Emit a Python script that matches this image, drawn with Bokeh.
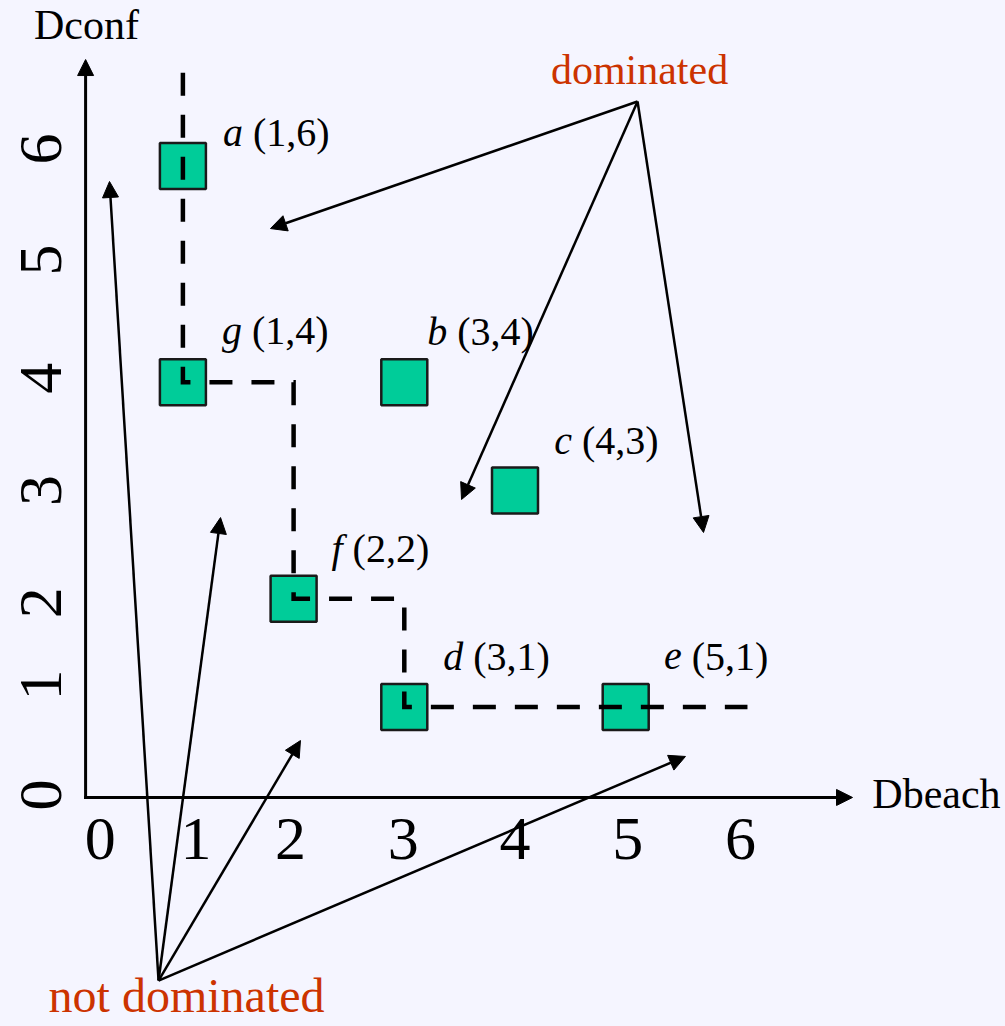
from bokeh.plotting import figure
from bokeh.models import ColumnDataSource, Range1d, Arrow, NormalHead
from bokeh.core.properties import value
from bokeh.embed import file_html
from bokeh.resources import INLINE
import math

# ---------------- data ----------------
names = ["a", "b", "c", "d", "e", "f", "g"]
dbeach = [1, 3, 4, 3, 5, 2, 1]
dconf = [6, 4, 3, 1, 1, 2, 4]
coord_labels = ["(1,6)", "(3,4)", "(4,3)", "(3,1)", "(5,1)", "(2,2)", "(1,4)"]

# Pareto frontier staircase (dashed)
frontier_x = [1, 1, 2, 2, 3, 3, 6.1]
frontier_y = [6.86, 4, 4, 2, 2, 1, 1]

x_ticks = [0, 1, 2, 3, 4, 5, 6]
x_tick_labels = ["0", "1", "2", "3", "4", "5", "6"]
y_ticks = [0, 1, 2, 3, 4, 5, 6]
y_tick_labels = ["0", "1", "2", "3", "4", "5", "6"]

# annotation arrows (data coordinates)
dominated_from = (5.107, 6.595)
dominated_to_x = [1.791, 3.517, 5.703]
dominated_to_y = [5.421, 2.917, 2.612]
notdom_from = (0.780, -1.529)
notdom_to_x = [0.337, 1.340, 2.062, 5.540]
notdom_to_y = [5.856, 2.750, 0.689, 0.542]

# ---------------- layout / style ----------------
BG = "#F5F5FF"
SQ = "#00CC99"
RED = "#CC3300"
SERIF = value("Liberation Serif")
FIX = 0.34  # em; compensates the baseline placement of the svg text

def shift(fs):
    return -FIX * fs

label_dx = [70, 53, 67, 69, 66, 59, 69]        # px, start of "(x,y)" from square centre
label_dy = [-20, -37, -36, -37, -37, -37, -38]  # px, baseline from square centre
x_tick_dx = [28, 13, -3, -1, 0, 2, 4]
y_tick_dy = [-20, -22, 4, 0, -4, -14, -17]

axis_origin = (0.121, 0.163)
y_axis_top = 6.983
x_axis_right = 7.049

p = figure(width=1005, height=1026, output_backend="svg", toolbar_location=None,
           x_range=Range1d(-0.6477, 8.4309), y_range=Range1d(-1.9538, 7.5287),
           min_border=0)
p.axis.visible = False
p.grid.visible = False
p.outline_line_color = None
p.background_fill_color = BG
p.border_fill_color = BG

# squares
pts = ColumnDataSource(dict(
    x=dbeach, y=dconf, name=names, coord=coord_labels,
    ldx=[d - 10 for d in label_dx], cdx=label_dx, dy=[d + shift(40) for d in label_dy]))
p.scatter("x", "y", source=pts, marker="square", size=46,
          fill_color=SQ, line_color="#1A1A1A", line_width=2.5)

# dashed frontier on top of squares
p.line(frontier_x, frontier_y, line_color="black", line_width=4.5,
       line_dash="23 19", line_cap="butt", line_join="miter")

# axes
ox, oy = axis_origin
p.add_layout(Arrow(end=NormalHead(size=16, fill_color="black", line_color="black", line_width=1),
                   x_start=ox, y_start=oy, x_end=ox, y_end=y_axis_top,
                   line_width=3, line_color="black", line_cap="square"))
p.add_layout(Arrow(end=NormalHead(size=16, fill_color="black", line_color="black", line_width=1),
                   x_start=ox, y_start=oy, x_end=x_axis_right, y_end=oy,
                   line_width=3, line_color="black", line_cap="square"))

# annotation arrows
dom_src = ColumnDataSource(dict(
    x0=[dominated_from[0]] * len(dominated_to_x), y0=[dominated_from[1]] * len(dominated_to_x),
    x1=dominated_to_x, y1=dominated_to_y))
p.add_layout(Arrow(end=NormalHead(size=16, fill_color="black", line_color="black", line_width=1),
                   x_start="x0", y_start="y0", x_end="x1", y_end="y1", source=dom_src,
                   line_width=2.5, line_color="black"))
nd_src = ColumnDataSource(dict(
    x0=[notdom_from[0]] * len(notdom_to_x), y0=[notdom_from[1]] * len(notdom_to_x),
    x1=notdom_to_x, y1=notdom_to_y))
p.add_layout(Arrow(end=NormalHead(size=16, fill_color="black", line_color="black", line_width=1),
                   x_start="x0", y_start="y0", x_end="x1", y_end="y1", source=nd_src,
                   line_width=2.5, line_color="black"))

# point labels: italic letter + upright coordinates
p.text("x", "y", text="name", source=pts, x_offset="ldx", y_offset="dy",
       text_font=SERIF, text_font_style="italic", text_font_size="40px",
       text_align="right", text_baseline="alphabetic", text_color="black")
p.text("x", "y", text="coord", source=pts, x_offset="cdx", y_offset="dy",
       text_font=SERIF, text_font_size="40px",
       text_align="left", text_baseline="alphabetic", text_color="black")

# tick labels
xt = ColumnDataSource(dict(x=x_ticks, y=[-0.42] * len(x_ticks), t=x_tick_labels, dx=x_tick_dx))
p.text("x", "y", text="t", source=xt, x_offset="dx", y_offset=shift(62),
       text_font=SERIF, text_font_size="62px",
       text_align="center", text_baseline="alphabetic", text_color="black")
yt = ColumnDataSource(dict(x=[-0.0876] * len(y_ticks), y=y_ticks, t=y_tick_labels, dy=y_tick_dy))
p.text("x", "y", text="t", source=yt, x_offset=shift(62), y_offset="dy", angle=math.pi / 2,
       text_font=SERIF, text_font_size="62px",
       text_align="center", text_baseline="alphabetic", text_color="black")

# axis titles and annotations
p.text([0.129], [7.168], text=["Dconf"], y_offset=shift(42), text_font=SERIF, text_font_size="42px",
       text_align="center", text_baseline="alphabetic", text_color="black")
p.text([7.228], [0.061], text=["Dbeach"], y_offset=shift(42), text_font=SERIF, text_font_size="42px",
       text_align="left", text_baseline="alphabetic", text_color="black")
p.text([5.125], [6.752], text=["dominated"], y_offset=shift(42), text_font=SERIF, text_font_size="42px",
       text_align="center", text_baseline="alphabetic", text_color=RED)
p.text([1.033], [-1.815], text=["not dominated"], y_offset=shift(48), text_font=SERIF,
       text_font_size="48px", text_align="center", text_baseline="alphabetic", text_color=RED)

html = file_html(p, INLINE)
html = html.replace("</head>", "<style>html, body { background-color: #F5F5FF; }</style></head>", 1)
open("out.html", "w").write(html)
